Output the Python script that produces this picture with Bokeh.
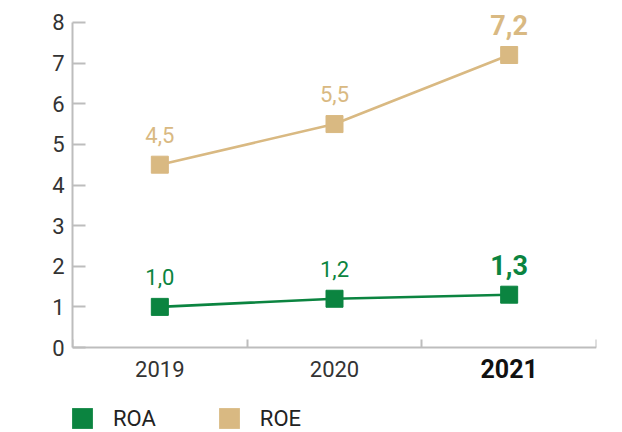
import numpy as np
from bokeh.plotting import figure
from bokeh.models import (ColumnDataSource, Range1d, FixedTicker, Legend,
                          LegendItem)
from bokeh.core.properties import value
from bokeh.embed import file_html
from bokeh.resources import INLINE

# ---- data ----
years = ["2019", "2020", "2021"]
roa = [1.0, 1.2, 1.3]
roe = [4.5, 5.5, 7.2]
y_ticks = [0, 1, 2, 3, 4, 5, 6, 7, 8]

GREEN = "#0b8440"
TAN = "#d9b982"
AXIS = "#bdbdbd"
FONT = "Roboto"

xs = [i + 0.5 for i in range(len(years))]
last = len(years) - 1

def fmt(v):
    return f"{v:.1f}".replace(".", ",")

Y_AXIS_TOP = 8
Y_TOP = 8.5415
Y_BOTTOM = -2.092

p = figure(width=606, height=432, output_backend="svg", toolbar_location=None,
           x_range=Range1d(0, len(years)), y_range=Range1d(Y_BOTTOM, Y_TOP),
           min_border_left=72, min_border_right=10, min_border_top=0,
           min_border_bottom=0)
p.outline_line_color = None
p.grid.visible = False
p.background_fill_color = "white"
p.border_fill_color = "white"

def series(vals, color):
    src = ColumnDataSource(dict(
        x=xs, y=vals, lab=[fmt(v) for v in vals],
        size=["22px" if i != last else "27px" for i in range(len(vals))],
        style=["normal" if i != last else "bold" for i in range(len(vals))],
    ))
    p.line("x", "y", source=src, line_color=color, line_width=2.6)
    p.scatter("x", "y", source=src, marker="square", size=17,
              fill_color=color, line_color=color)
    p.text("x", "y", text="lab", source=src, text_color=color,
           text_font=value(FONT), text_font_size="size", text_font_style="style",
           text_align="center", text_baseline="alphabetic", y_offset=-30)

series(roa, GREEN)
series(roe, TAN)

# category labels under the axis
cat_src = ColumnDataSource(dict(
    x=xs, y=[0] * len(xs), lab=years,
    size=["22px" if i != last else "25px" for i in range(len(years))],
    style=["normal" if i != last else "bold" for i in range(len(years))],
    color=["#333333" if i != last else "#111111" for i in range(len(years))],
))
p.text("x", "y", text="lab", source=cat_src, text_color="color",
       text_font=value(FONT), text_font_size="size", text_font_style="style",
       text_align="center", text_baseline="alphabetic", y_offset=21)

# legend proxies (no visible mark: coordinates are NaN)
nan_src = ColumnDataSource(dict(x=np.array([np.nan]), y=np.array([np.nan])))
r_roa = p.rect("x", "y", width=1, height=1, source=nan_src,
               fill_color=GREEN, line_color=None)
r_roe = p.rect("x", "y", width=1, height=1, source=nan_src,
               fill_color=TAN, line_color=None)
legend = Legend(items=[LegendItem(label="ROA", renderers=[r_roa]),
                       LegendItem(label="ROE", renderers=[r_roe])],
                orientation="horizontal", location=(-3, 1),
                glyph_width=26, glyph_height=26, label_standoff=18, spacing=60,
                padding=0, margin=0, border_line_color=None,
                background_fill_alpha=0,
                label_text_font=FONT, label_text_font_size="22px",
                label_text_color="#222222")
p.add_layout(legend, "center")

# y axis
ya = p.yaxis[0]
ya.ticker = FixedTicker(ticks=y_ticks)
ya.bounds = (0, Y_AXIS_TOP)
ya.axis_line_color = AXIS
ya.axis_line_width = 2
ya.major_tick_line_color = AXIS
ya.major_tick_line_width = 2
ya.major_tick_in = 13
ya.major_tick_out = 0
ya.minor_tick_line_color = None
ya.major_label_text_font = FONT
ya.major_label_text_font_size = "22px"
ya.major_label_text_color = "#333333"
ya.major_label_standoff = 8

# x axis, placed at y = 0
xa = p.xaxis[0]
xa.fixed_location = 0
xa.ticker = FixedTicker(ticks=xs, minor_ticks=list(range(len(years) + 1)))
xa.major_label_overrides = {x: "" for x in xs}
xa.major_label_text_font_size = "1px"
xa.major_label_standoff = 0
xa.axis_line_color = AXIS
xa.axis_line_width = 2
xa.major_tick_line_color = None
xa.major_tick_in = 0
xa.major_tick_out = 0
xa.minor_tick_line_color = AXIS
xa.minor_tick_line_width = 2
xa.minor_tick_in = 8
xa.minor_tick_out = 0

open("out.html", "w").write(file_html(p, INLINE))
